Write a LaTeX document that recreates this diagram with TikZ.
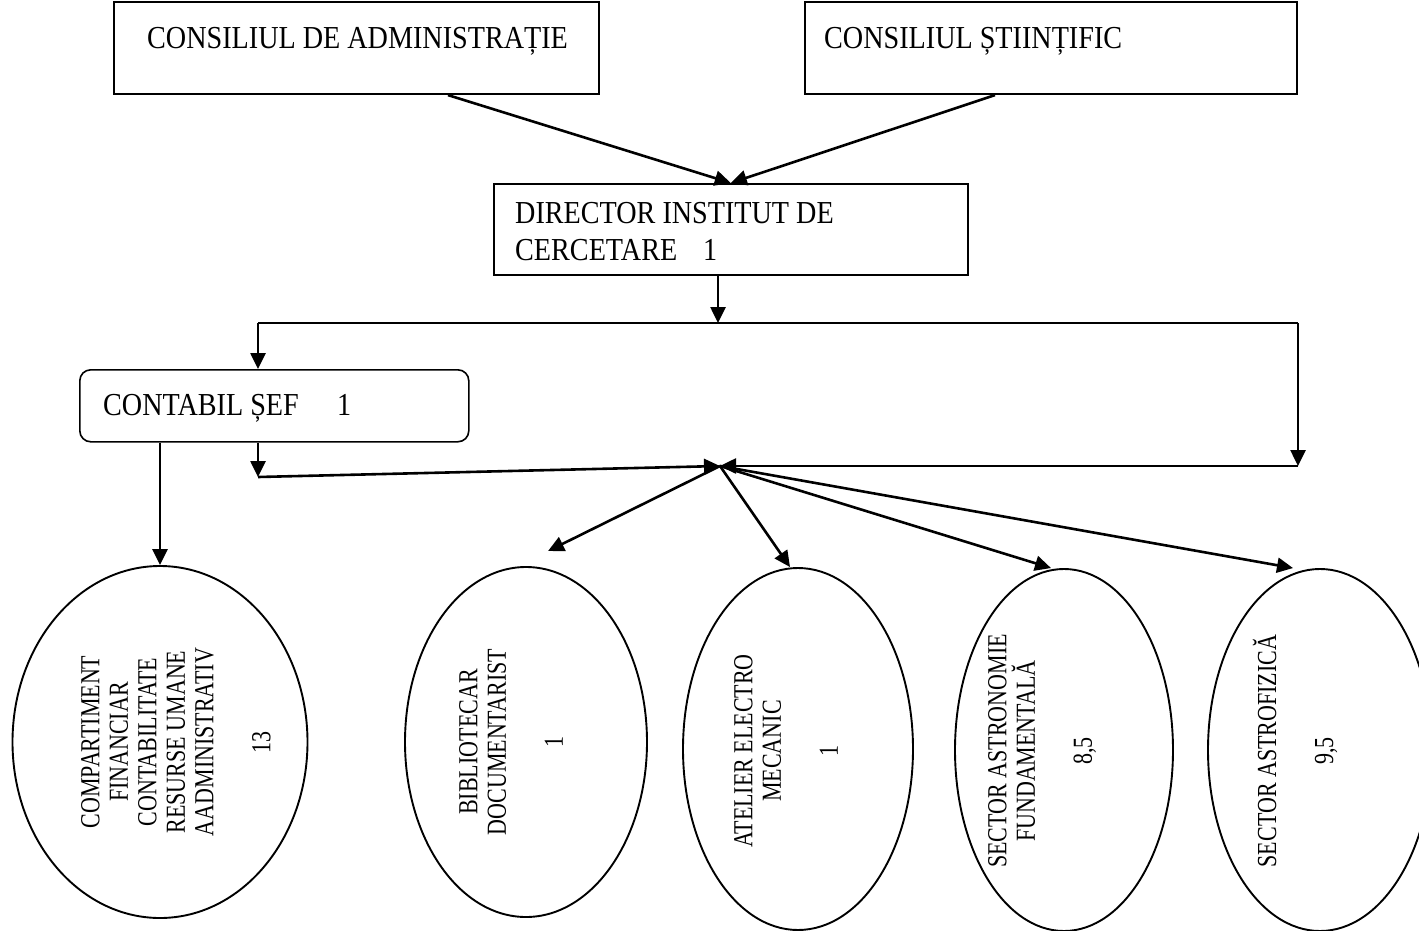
\documentclass[tikz,border=0pt]{standalone}
\usepackage{fontspec}
\setmainfont{Liberation Serif}
\newfontfamily\boxff{Liberation Serif}[FakeStretch=0.88]
\newfontfamily\ellff{Liberation Serif}[FakeStretch=0.8]
\usetikzlibrary{arrows.meta,shapes.geometric,calc}
\newcommand\boxfont{\boxff\fontsize{32}{37}\selectfont}
\newcommand\ellfont{\ellff\fontsize{27.5}{28.5}\selectfont}
\begin{document}
\begin{tikzpicture}[x=1pt,y=-1pt,
  boxnode/.style={draw,line width=1.6pt,minimum width=#1,inner sep=0pt,anchor=north west},
  txt/.style={anchor=base west,inner sep=0pt,font=\boxfont,align=left},
  oval/.style={ellipse,draw,line width=1.9pt,inner sep=0pt},
  otxt/.style={rotate=90,align=center,inner sep=0pt,font=\ellfont},
  conn/.style={line width=2.6pt},
  arr/.style={line width=2.6pt,-{Triangle[length=16pt,width=15pt]}}]
\useasboundingbox (0,0) rectangle (1419,931);
% boxes
\node[boxnode=485pt,minimum height=92pt] (b1) at (113,1.5) {};
\node[txt] (t1) at (147,49) {CONSILIUL DE ADMINISTRAȚIE};
\node[boxnode=492pt,minimum height=92pt] (b2) at (804,1.5) {};
\node[txt] (t2) at (824,49) {CONSILIUL ȘTIINȚIFIC};
\node[boxnode=474pt,minimum height=91pt] (dir) at (493,183) {};
\node[txt] (t3) at (515,260) {DIRECTOR INSTITUT DE\\\makebox[188pt][l]{CERCETARE}1};
\node[boxnode=389pt,minimum height=72pt,rounded corners=11pt] (cb) at (79,369) {};
\node[txt] (t4) at (103,415) {\makebox[234pt][l]{CONTABIL ȘEF}1};
% ellipses
\node[oval,minimum width=295pt,minimum height=352pt] (e1) at (160,742) {};
\node[otxt] (o1) at (176,742) {COMPARTIMENT\\FINANCIAR\\CONTABILITATE\\RESURSE UMANE\\AADMINISTRATIV\\\mbox{}\\13};
\node[oval,minimum width=242pt,minimum height=350pt] (e2) at (526,742) {};
\node[otxt] (o2) at (511,742) {BIBLIOTECAR\\DOCUMENTARIST\\\mbox{}\\1};
\node[oval,minimum width=230pt,minimum height=362pt] (e3) at (798,749) {};
\node[otxt] (o3) at (786,751) {ATELIER ELECTRO\\MECANIC\\\mbox{}\\1};
\node[oval,minimum width=218pt,minimum height=362pt] (e4) at (1064,750) {};
\node[otxt] (o4) at (1042,751) {SECTOR ASTRONOMIE\\FUNDAMENTALĂ\\\mbox{}\\8,5};
\node[oval,minimum width=224pt,minimum height=362pt] (e5) at (1320,750) {};
\node[otxt] (o5) at (1295,751) {SECTOR ASTROFIZICĂ\\\mbox{}\\9,5};
% coordinates
\coordinate (hl) at (258,323);
\coordinate (hm) at (718,323);
\coordinate (hr) at (1298,323);
\coordinate (rc) at (1298,466);
\coordinate (cl) at (258,477);
\coordinate (hub) at (720,466);
% connectors
\draw[arr] ([xshift=335pt]b1.south west) -- (dir.north);
\draw[arr] ([xshift=191pt]b2.south west) -- (dir.north);
\draw[arr] (hm |- dir.south) -- (hm);
\draw[conn] (hl) -- (hr);
\draw[arr] (hl) -- (hl |- cb.north);
\draw[arr] (hr) -- (rc);
\draw[arr] (rc) -- (hub);
\draw[arr] (e1.north |- cb.south) -- (e1.north);
\draw[arr] (hl |- cb.south) -- (cl);
\draw[arr] (cl) -- (hub);
\draw[arr] (hub) -- ([xshift=22pt,yshift=15pt]e2.north);
\draw[arr] (hub) -- ([xshift=-8pt]e3.north);
\draw[arr] (hub) -- ([xshift=-13pt]e4.north);
\draw[arr] (hub) -- ([xshift=-27pt]e5.north);
\end{tikzpicture}
\end{document}
